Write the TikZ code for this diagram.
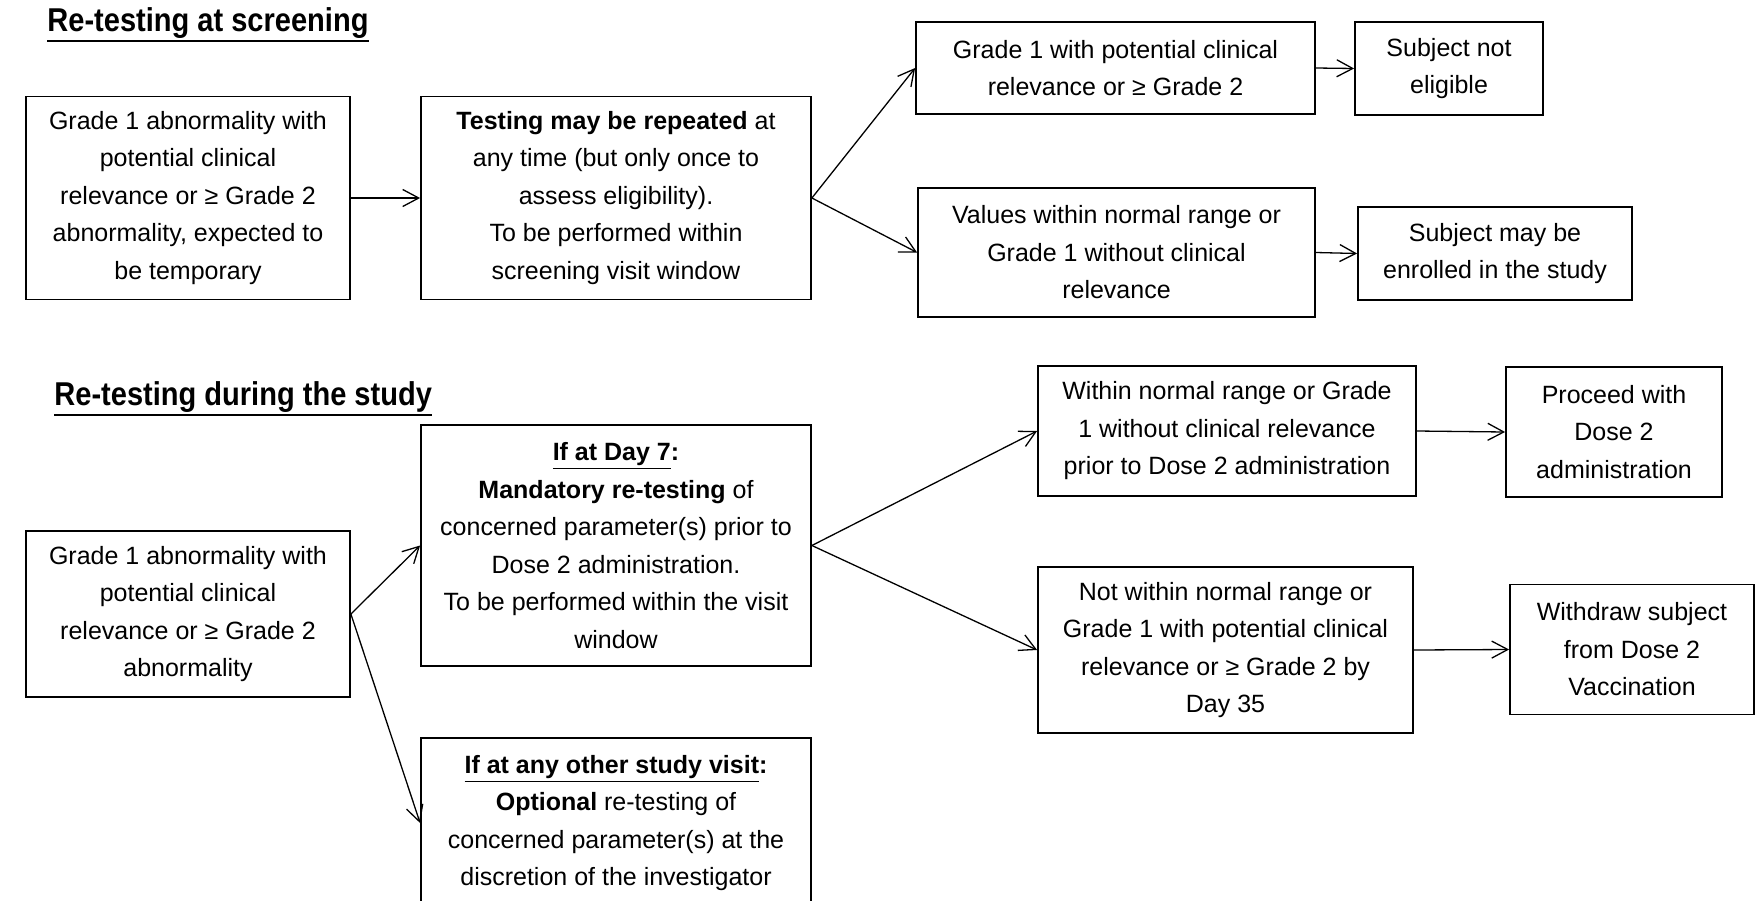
\documentclass[tikz,border=0pt]{standalone}
\usepackage{fontspec}
\setmainfont{Liberation Sans}
\newfontfamily\titlefont[FakeStretch=0.88]{Liberation Sans}
\usetikzlibrary{arrows.meta}
\newcommand{\headrule}[1]{\setbox0\hbox{#1}\rlap{\usebox0}\rule[-5.6pt]{\wd0}{1.2pt}}

\begin{document}
\begin{tikzpicture}[
			x=0.5pt,
			y=-0.5pt,
			box/.style={
				draw,
				line width=0.9pt,
				align=center,
				inner sep=0pt,
				font=\fontsize{12.5}{18.75}\selectfont
			},
			heading/.style={
				anchor=base west,
				inner sep=0pt,
				font=\titlefont\fontsize{16.5}{19}\selectfont\bfseries
			},
			every edge/.style={
				draw,
				-{Straight Barb[length=8pt,width=8.5pt]},
				line width=0.65pt
			}
			]
			\clip (0,0) rectangle (1756,900);
			\fill[white] (0,0) rectangle (1756,900);
			
			% Screening
			\node[heading] (screentitle) at (47,31) {\headrule{Re-testing at screening}};
			\node[box, minimum width=162pt, minimum height=101.5pt] (scrgrade) at (188,198)
				{Grade 1 abnormality with\\ potential clinical\\ relevance or ≥ Grade 2\\ abnormality, expected to\\ be temporary};
			\node[box, minimum width=195pt, minimum height=101.5pt] (scrrepeat) at (616,198)
				{\textbf{Testing may be repeated} at\\ any time (but only once to\\ assess eligibility).\\ To be performed within\\ screening visit window};
			\node[box, minimum width=199.5pt, minimum height=46pt] (scrhigh) at (1115.5,68)
				{Grade 1 with potential clinical\\ relevance or ≥ Grade 2};
			\node[box, minimum width=94pt, minimum height=46.5pt] (scrnot) at (1449,68.5)
				{Subject not\\ eligible};
			\node[box, minimum width=198.5pt, minimum height=64.5pt] (scrnormal) at (1116.5,252.5)
				{Values within normal range or\\ Grade 1 without clinical\\ relevance};
			\node[box, minimum width=137pt, minimum height=46.5pt] (screnrol) at (1495,253.5)
				{Subject may be\\ enrolled in the study};
			
			% During the study
			\node[heading] (studytitle) at (54,405) {\headrule{Re-testing during the study}};
			\node[box, minimum width=162pt, minimum height=83pt] (stdgrade) at (188,614)
				{Grade 1 abnormality with\\ potential clinical\\ relevance or ≥ Grade 2\\ abnormality};
			\node[box, minimum width=195pt, minimum height=120.5pt] (stdday) at (616,545.5)
				{\underline{\textbf{If at Day 7}}\textbf{:}\\ \textbf{Mandatory re-testing} of\\ concerned parameter(s) prior to\\ Dose 2 administration.\\ To be performed within the visit\\ window};
			\node[box, minimum width=195pt, minimum height=85pt] (stdother) at (616,823)
				{\underline{\textbf{If at any other study visit}}\textbf{:}\\ \textbf{Optional} re-testing of\\ concerned parameter(s) at the\\ discretion of the investigator};
			\node[box, minimum width=189pt, minimum height=65pt] (stdnormal) at (1227,431)
				{Within normal range or Grade\\ 1 without clinical relevance\\ prior to Dose 2 administration};
			\node[box, minimum width=108pt, minimum height=65pt] (stdproceed) at (1614,432)
				{Proceed with\\ Dose 2\\ administration};
			\node[box, minimum width=187.5pt, minimum height=83pt] (stdhigh) at (1225.5,650)
				{Not within normal range or\\ Grade 1 with potential clinical\\ relevance or ≥ Grade 2 by\\ Day 35};
			\node[box, minimum width=122pt, minimum height=65pt] (stdwithdraw) at (1632,649.5)
				{Withdraw subject\\ from Dose 2\\ Vaccination};
			
			% Arrows
			\path
			(scrgrade.east) edge (scrrepeat.west)
			(scrrepeat.east) edge (scrhigh.west)
			(scrrepeat.east) edge (scrnormal.west)
			(scrhigh.east) edge (scrnot.west)
			(scrnormal.east) edge (screnrol.west)
			(stdgrade.east) edge (stdday.west)
			(stdgrade.east) edge (stdother.west)
			(stdday.east) edge (stdnormal.west)
			(stdday.east) edge (stdhigh.west)
			(stdnormal.east) edge (stdproceed.west)
			(stdhigh.east) edge (stdwithdraw.west);
		\end{tikzpicture}
\end{document}
